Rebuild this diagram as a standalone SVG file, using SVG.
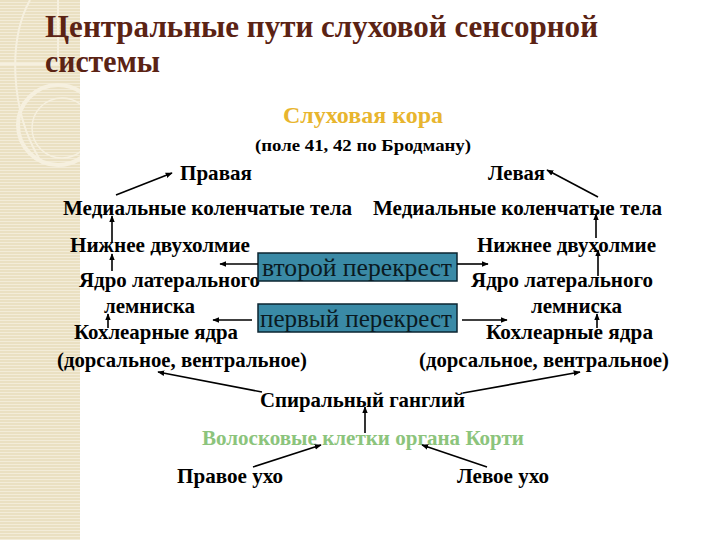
<svg xmlns="http://www.w3.org/2000/svg" width="720" height="540" viewBox="0 0 720 540">
  <defs>
    <pattern id="stripes" width="4" height="3" patternUnits="userSpaceOnUse">
      <rect width="4" height="3" fill="#EAE0C2"/>
      <rect y="2" width="4" height="1" fill="#F3ECD9"/>
    </pattern>
    <marker id="arr" viewBox="0 0 10 10" refX="9" refY="5" markerWidth="7" markerHeight="7" orient="auto-start-reverse" markerUnits="userSpaceOnUse">
      <path d="M0,1 L10,5 L0,9 Z" fill="#000"/>
    </marker>
    <clipPath id="stripeClip">
      <rect x="0" y="0" width="80" height="540"/>
    </clipPath>
  </defs>
  <style>
    text { font-family: 'Liberation Serif', 'DejaVu Serif', 'Times New Roman', serif; }
    .lbl { font-weight: bold; font-size: 21px; fill: #000; }
    .title { font-weight: bold; font-size: 32px; fill: #5B2314; }
    .cross { font-size: 25px; fill: #0A1A22; }
    .box { fill: #3A8AA6; stroke: #0B2530; stroke-width: 1.5; }
    .conn line { stroke: #000; stroke-width: 1.6; marker-end: url(#arr); }
  </style>

  <!-- background -->
  <rect width="720" height="540" fill="#FFFFFF"/>
  <g id="decor">
    <rect x="0" y="0" width="80" height="540" fill="url(#stripes)"/>
    <g clip-path="url(#stripeClip)" fill="none" stroke="#F6F0DF" stroke-width="3">
      <rect x="-2" y="-2" width="60" height="66" stroke-width="2"/>
      <path d="M30,0 C 8,40 10,110 40,160" stroke-width="2"/>
      <circle cx="58" cy="125" r="40" stroke-width="4"/>
      <circle cx="62" cy="128" r="30" stroke-width="1.5"/>
    </g>
  </g>

  <!-- title -->
  <g id="title">
    <text class="title" x="45" y="37" textLength="553" lengthAdjust="spacingAndGlyphs">Центральные пути слуховой сенсорной</text>
    <text class="title" x="45" y="72" textLength="115" lengthAdjust="spacingAndGlyphs">системы</text>
  </g>

  <g id="cortex">
    <text class="lbl" x="283" y="123" style="fill:#E8B52E;font-size:23px" textLength="160" lengthAdjust="spacingAndGlyphs">Слуховая кора</text>
    <text class="lbl" x="255" y="151" style="font-size:17px" textLength="216" lengthAdjust="spacingAndGlyphs">(поле 41, 42 по Бродману)</text>
  </g>
  <g id="right-side"><text class="lbl" x="180" y="180" textLength="72" lengthAdjust="spacingAndGlyphs">Правая</text></g>
  <g id="left-side"><text class="lbl" x="488" y="180" textLength="57" lengthAdjust="spacingAndGlyphs">Левая</text></g>

  <g id="mgb-left"><text class="lbl" x="63" y="215" textLength="289" lengthAdjust="spacingAndGlyphs">Медиальные коленчатые тела</text></g>
  <g id="mgb-right"><text class="lbl" x="373" y="215" textLength="289" lengthAdjust="spacingAndGlyphs">Медиальные коленчатые тела</text></g>

  <g id="ic-left"><text class="lbl" x="70" y="252" textLength="180" lengthAdjust="spacingAndGlyphs">Нижнее двухолмие</text></g>
  <g id="ic-right"><text class="lbl" x="477" y="252" textLength="179" lengthAdjust="spacingAndGlyphs">Нижнее двухолмие</text></g>

  <g id="ll-left">
    <text class="lbl" x="79" y="287" textLength="181" lengthAdjust="spacingAndGlyphs">Ядро латерального</text>
    <text class="lbl" x="104" y="313" textLength="91" lengthAdjust="spacingAndGlyphs">лемниска</text>
  </g>
  <g id="ll-right">
    <text class="lbl" x="471" y="287" textLength="182" lengthAdjust="spacingAndGlyphs">Ядро латерального</text>
    <text class="lbl" x="531" y="313" textLength="91" lengthAdjust="spacingAndGlyphs">лемниска</text>
  </g>

  <g id="cn-left">
    <text class="lbl" x="74" y="339" textLength="164" lengthAdjust="spacingAndGlyphs">Кохлеарные ядра</text>
    <text class="lbl" x="57" y="367" textLength="250" lengthAdjust="spacingAndGlyphs">(дорсальное, вентральное)</text>
  </g>
  <g id="cn-right">
    <text class="lbl" x="486" y="339" textLength="167" lengthAdjust="spacingAndGlyphs">Кохлеарные ядра</text>
    <text class="lbl" x="419" y="367" textLength="250" lengthAdjust="spacingAndGlyphs">(дорсальное, вентральное)</text>
  </g>

  <g id="second-cross">
    <rect class="box" x="258" y="253" width="199" height="28"/>
    <text class="cross" x="262" y="276" textLength="190" lengthAdjust="spacingAndGlyphs">второй перекрест</text>
  </g>
  <g id="first-cross">
    <rect class="box" x="258" y="304" width="199" height="28"/>
    <text class="cross" x="260" y="327" textLength="192" lengthAdjust="spacingAndGlyphs">первый перекрест</text>
  </g>

  <g id="spiral"><text class="lbl" x="260" y="407" textLength="205" lengthAdjust="spacingAndGlyphs">Спиральный ганглий</text></g>
  <g id="hair"><text class="lbl" x="202" y="445" style="fill:#8CC47C" textLength="322" lengthAdjust="spacingAndGlyphs">Волосковые клетки органа Корти</text></g>
  <g id="right-ear"><text class="lbl" x="177" y="483" textLength="106" lengthAdjust="spacingAndGlyphs">Правое ухо</text></g>
  <g id="left-ear"><text class="lbl" x="457" y="483" textLength="92" lengthAdjust="spacingAndGlyphs">Левое ухо</text></g>

  <g id="connectors" class="conn">
    <line x1="116" y1="195" x2="172" y2="173"/>
    <line x1="598" y1="197" x2="547" y2="170"/>
    <line x1="112" y1="242" x2="112" y2="216"/>
    <line x1="112" y1="271" x2="112" y2="254"/>
    <line x1="108" y1="328" x2="108" y2="314"/>
    <line x1="596" y1="238" x2="596" y2="214"/>
    <line x1="598" y1="276" x2="598" y2="250"/>
    <line x1="597" y1="328" x2="597" y2="314"/>
    <line x1="258" y1="264" x2="220" y2="264"/>
    <line x1="457" y1="264" x2="488" y2="264"/>
    <line x1="252" y1="320" x2="213" y2="320"/>
    <line x1="462" y1="320" x2="507" y2="320"/>
    <line x1="262" y1="392" x2="158" y2="372"/>
    <line x1="463" y1="393" x2="580" y2="372"/>
    <line x1="365" y1="433" x2="365" y2="407"/>
    <line x1="253" y1="467" x2="321" y2="445"/>
    <line x1="487" y1="467" x2="422" y2="445"/>
  </g>
</svg>
